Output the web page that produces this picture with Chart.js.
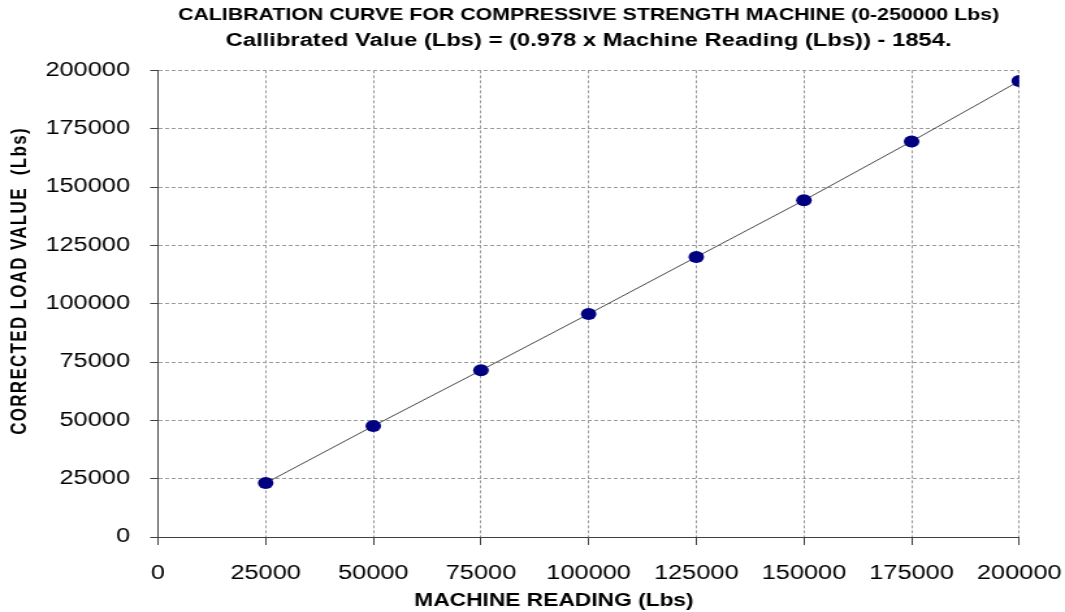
<!DOCTYPE html>
<html>
<head>
<meta charset="utf-8">
<title>Calibration Curve</title>
<script src="https://cdn.jsdelivr.net/npm/chart.js@4.4.1/dist/chart.umd.min.js"></script>
<style>
    html, body { margin: 0; padding: 0; background: #fff; }
    #chart { display: block; width: 1065px; height: 612px; }
</style>
</head>
<body>
<canvas id="chart" width="819" height="612" style="width:1065px;height:612px"></canvas>
<script>
// chart data
const machineReading = [25000, 50000, 75000, 100000, 125000, 150000, 175000, 200000];
const correctedLoad = [23100, 47570, 71430, 95570, 120000, 144300, 169550, 195400];

const axisMin = 0;
const axisMax = 200000;
const tickStep = 25000;

const chartTitle = 'CALIBRATION CURVE FOR COMPRESSIVE STRENGTH MACHINE (0-250000 Lbs)';
const chartSubtitle = 'Callibrated Value (Lbs) = (0.978 x Machine Reading (Lbs)) - 1854.';
const xAxisTitle = 'MACHINE READING (Lbs)';
const yAxisTitle = 'CORRECTED LOAD VALUE  (Lbs)';

const FONT = '"Liberation Sans", Arial, sans-serif';
Chart.defaults.font.family = FONT;
Chart.defaults.color = '#000';

// axis titles are drawn by hand so they sit where the original has them
const axisTitles = {
    id: 'axisTitles',
    afterDraw(chart) {
        const { ctx } = chart;
        ctx.save();
        ctx.fillStyle = '#000';
        ctx.textAlign = 'center';
        ctx.textBaseline = 'middle';

        ctx.font = `bold 17.5px ${FONT}`;
        ctx.fillText(xAxisTitle, 426, 601);

        ctx.translate(15.8, 281);
        ctx.rotate(-Math.PI / 2);
        ctx.font = `bold 17px ${FONT}`;
        ctx.letterSpacing = '1.3px';
        ctx.fillText(yAxisTitle, 0, 0);
        ctx.restore();
    }
};

const points = machineReading.map((x, i) => ({ x, y: correctedLoad[i] }));

new Chart(document.getElementById('chart'), {
    type: 'scatter',
    data: {
        datasets: [{
            data: points,
            showLine: true,
            borderColor: '#4a4a4a',
            borderWidth: 1,
            pointRadius: 6,
            pointHoverRadius: 6,
            pointBackgroundColor: '#000080',
            pointBorderColor: '#000080',
            pointBorderWidth: 0
        }]
    },
    options: {
        responsive: false,
        animation: false,
        devicePixelRatio: 1,
        layout: { padding: { left: 0, right: 35.2, top: 0, bottom: 0 } },
        plugins: {
            legend: { display: false },
            tooltip: { enabled: false },
            title: {
                display: true,
                text: chartTitle,
                fullSize: false,
                color: '#000',
                font: { size: 16.4, weight: 'bold' },
                padding: { top: 6, bottom: 2.6 }
            },
            subtitle: {
                display: true,
                text: chartSubtitle,
                fullSize: false,
                color: '#000',
                font: { size: 18.3, weight: 'bold' },
                padding: { top: 1.6, bottom: 18.5 }
            }
        },
        scales: {
            x: {
                type: 'linear',
                min: axisMin,
                max: axisMax,
                afterFit(scale) {
                    scale.height = 75;
                    scale.paddingLeft = 0;
                    scale.paddingRight = 0;
                },
                ticks: {
                    stepSize: tickStep,
                    padding: 16.5,
                    maxRotation: 0,
                    color: '#000',
                    font: { size: 19.5 },
                    callback: v => String(v)
                },
                grid: {
                    color: '#9a9a9a',
                    tickLength: 8,
                    tickColor: '#404040'
                },
                border: { color: '#404040', width: 1, dash: [3, 2] }
            },
            y: {
                type: 'linear',
                min: axisMin,
                max: axisMax,
                afterFit(scale) { scale.width = 121.5; },
                ticks: {
                    stepSize: tickStep,
                    padding: 15.5,
                    color: '#000',
                    font: { size: 19.5 },
                    callback: v => String(v)
                },
                grid: {
                    color: '#9a9a9a',
                    tickLength: 6,
                    tickColor: '#404040'
                },
                border: { color: '#404040', width: 1, dash: [3, 2] }
            }
        }
    },
    plugins: [axisTitles]
});
</script>
</body>
</html>
